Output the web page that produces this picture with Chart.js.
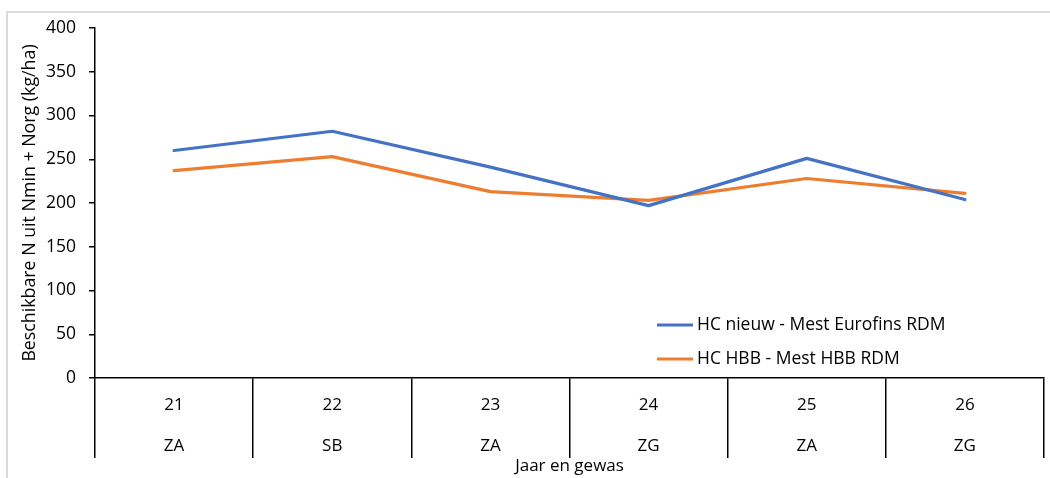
<!DOCTYPE html>
<html>
<head>
<meta charset="utf-8">
<script src="https://cdn.jsdelivr.net/npm/chart.js@4/dist/chart.umd.min.js"></script>
<style>
  html, body { margin: 0; padding: 0; background: #fff; }
  #wrap { position: relative; width: 1050px; height: 478px; overflow: hidden; }
  #frame { position: absolute; left: 6px; top: 11px; width: 1060px; height: 480px;
           border-left: 2px solid #dadada; border-top: 2px solid #dadada; box-sizing: border-box; }
  #c { position: absolute; left: 0; top: 0; }
</style>
</head>
<body>
<div id="wrap">
  <div id="frame"></div>
  <canvas id="c" width="1050" height="478"></canvas>
</div>
<script>
// Jaar en gewas
const years = ['21', '22', '23', '24', '25', '26'];
const crops = ['ZA', 'SB', 'ZA', 'ZG', 'ZA', 'ZG'];

// Beschikbare N (kg/ha)
const hcNieuw = [260, 282, 241, 197, 251, 204];
const hcHbb = [237, 253, 213, 203, 228, 211];

const seriesNames = ['HC nieuw - Mest Eurofins RDM', 'HC HBB - Mest HBB RDM'];
const seriesColors = ['#4472C4', '#ED7D31'];

const yTicks = [0, 50, 100, 150, 200, 250, 300, 350, 400];

const FONT = "'Open Sans', 'Liberation Sans', sans-serif";
const labels = years.map((y, i) => [y, crops[i]]);

// Legend drawn inside the plot area, lower right
const innerLegend = {
  id: 'innerLegend',
  afterDraw(chart) {
    const ctx = chart.ctx;
    const area = chart.chartArea;
    const x0 = area.left + 562;
    const rows = [area.top + 297, area.top + 331];
    ctx.save();
    chart.data.datasets.forEach((ds, i) => {
      const y = rows[i];
      ctx.strokeStyle = ds.borderColor;
      ctx.lineWidth = 3;
      ctx.beginPath();
      ctx.moveTo(x0, y);
      ctx.lineTo(x0 + 36, y);
      ctx.stroke();
      ctx.fillStyle = '#000';
      ctx.font = '17.5px ' + FONT;
      ctx.textBaseline = 'middle';
      ctx.textAlign = 'left';
      ctx.fillText(ds.label, x0 + 40, y);
    });
    ctx.restore();
  }
};

new Chart(document.getElementById('c'), {
  type: 'line',
  data: {
    labels: labels,
    datasets: [
      { label: seriesNames[0], data: hcNieuw, borderColor: seriesColors[0], backgroundColor: seriesColors[0],
        borderWidth: 3.2, pointRadius: 0, tension: 0, borderJoinStyle: 'round', borderCapStyle: 'round' },
      { label: seriesNames[1], data: hcHbb, borderColor: seriesColors[1], backgroundColor: seriesColors[1],
        borderWidth: 3.2, pointRadius: 0, tension: 0, borderJoinStyle: 'round', borderCapStyle: 'round' }
    ]
  },
  options: {
    responsive: false,
    animation: false,
    events: [],
    layout: { padding: { left: 0, right: 6, top: 28, bottom: 0 } },
    plugins: { legend: { display: false }, tooltip: { enabled: false } },
    scales: {
      x: {
        type: 'category',
        offset: true,
        border: { display: true, color: '#000', width: 1.5 },
        grid: { offset: true, drawOnChartArea: false, drawTicks: true, tickLength: 80, color: '#000', lineWidth: 1.5 },
        ticks: { color: '#000', font: { family: FONT, size: 17, lineHeight: 2.4 }, padding: -73, maxRotation: 0, autoSkip: false },
        title: { display: true, text: 'Jaar en gewas', color: '#000', font: { family: FONT, size: 17 }, padding: 2 },
        afterFit(scale) { scale.height = 100; }
      },
      y: {
        min: 0, max: 400,
        afterBuildTicks(scale) { scale.ticks = yTicks.map(v => ({ value: v })); },
        border: { display: true, color: '#000', width: 1.5 },
        grid: { drawOnChartArea: false, drawTicks: true, tickLength: 6, color: '#000', lineWidth: 1.5 },
        ticks: { color: '#000', font: { family: FONT, size: 17.5 }, padding: 13 },
        title: { display: true, text: 'Beschikbare N uit Nmin + Norg (kg/ha)', color: '#000', font: { family: FONT, size: 17.8 }, padding: 19 },
        afterFit(scale) { scale.width = 95; }
      }
    }
  },
  plugins: [innerLegend]
});
</script>
</body>
</html>
